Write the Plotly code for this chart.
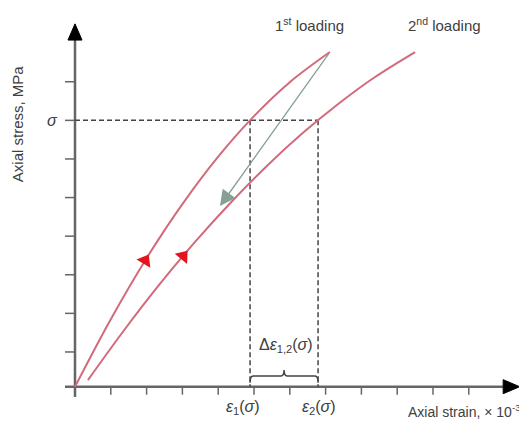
import numpy as np
import plotly.graph_objects as go

# ---- data (strain in 1e-3 units, stress in axis units) ----
load1_strain = [0.0, 1.0, 2.0, 3.0, 4.0, 5.0, 6.0, 7.12]
load1_stress = [0.0, 1.75, 3.33, 4.73, 5.96, 7.01, 7.89, 8.67]
load2_strain = [0.36, 1.36, 2.36, 3.36, 4.36, 5.36, 6.36, 7.36, 8.36, 9.50]
load2_stress = [0.17, 1.45, 2.65, 3.76, 4.78, 5.72, 6.57, 7.33, 8.01, 8.67]
unload_strain = [7.12, 4.05]
unload_stress = [8.67, 4.68]
sigma_level = 6.9
eps1 = 4.89
eps2 = 6.79
arrow1_strain = 1.96
arrow2_strain = 3.02
x_ticks = list(range(0, 12))
y_ticks = [0.9, 1.9, 2.9, 3.9, 4.9, 5.9, 6.9, 7.9]

# pixel scale (px per unit); page has an 8px body margin
PX_X, PX_Y = 35.8, 38.6
X0, Y0 = 75.0 - 8, 386.7 - 8
W, H = 519, 426
xr = [-X0 / PX_X, (W - X0) / PX_X]
yr = [(Y0 - H) / PX_Y, Y0 / PX_Y]

FONT = "Arial, Liberation Sans, sans-serif"
CURVE = "#d26a7b"
AXIS = "#666666"
DASH = "#444444"

fig = go.Figure()

# axes lines
fig.add_trace(go.Scatter(x=[-0.28, 11.96], y=[0, 0], mode="lines",
                         line=dict(color=AXIS, width=2.5), hoverinfo="skip"))
fig.add_trace(go.Scatter(x=[0, 0], y=[-0.27, 8.98], mode="lines",
                         line=dict(color=AXIS, width=2.5), hoverinfo="skip"))

# ticks
tx, ty = [], []
for t in x_ticks:
    tx += [t, t, None]
    ty += [0, -8 / PX_Y, None]
for t in y_ticks:
    tx += [-10 / PX_X, 0, None]
    ty += [t, t, None]
fig.add_trace(go.Scatter(x=tx, y=ty, mode="lines", line=dict(color=AXIS, width=1.5),
                         hoverinfo="skip"))

# axis arrowheads
fig.add_shape(type="path", xref="x", yref="y",
              path=f"M {-7/PX_X},8.98 L {7/PX_X},8.98 L 0,9.4 Z",
              fillcolor="black", line=dict(color="black", width=1))
fig.add_shape(type="path", xref="x", yref="y",
              path=f"M 11.96,{-7/PX_Y} L 11.96,{7/PX_Y} L 12.42,0 Z",
              fillcolor="black", line=dict(color="black", width=1))

# dashed guide lines
fig.add_trace(go.Scatter(x=[0, eps2, None, eps1, eps1, None, eps2, eps2],
                         y=[sigma_level, sigma_level, None, sigma_level, 0, None, sigma_level, 0],
                         mode="lines", line=dict(color=DASH, width=1.5, dash="5px,3px"),
                         hoverinfo="skip"))

# loading curves
fig.add_trace(go.Scatter(x=load1_strain, y=load1_stress, mode="lines",
                         line=dict(color=CURVE, width=2, shape="spline"), hoverinfo="skip"))
fig.add_trace(go.Scatter(x=load2_strain, y=load2_stress, mode="lines",
                         line=dict(color=CURVE, width=2, shape="spline"), hoverinfo="skip"))

# unloading arrow
fig.add_annotation(x=unload_strain[1], y=unload_stress[1], ax=unload_strain[0], ay=unload_stress[0],
                   xref="x", yref="y", axref="x", ayref="y", text="", showarrow=True,
                   arrowhead=2, arrowsize=2.4, arrowwidth=1.3, arrowcolor="#86a093")

# red direction arrows on the curves
def marker_angle(xs, ys, x):
    d = 0.05
    y1 = np.interp(x - d, xs, ys)
    y2 = np.interp(x + d, xs, ys)
    dxp = 2 * d * PX_X
    dyp = (y2 - y1) * PX_Y
    return float(np.degrees(np.arctan2(dxp, dyp)))

ax_list = [arrow1_strain, arrow2_strain]
ay_list = [float(np.interp(arrow1_strain, load1_strain, load1_stress)),
           float(np.interp(arrow2_strain, load2_strain, load2_stress))]
ang = [marker_angle(load1_strain, load1_stress, arrow1_strain),
       marker_angle(load2_strain, load2_stress, arrow2_strain)]
fig.add_trace(go.Scatter(x=ax_list, y=ay_list, mode="markers",
                         marker=dict(symbol="triangle-up", size=14, color="#e3141e",
                                     angle=ang, line=dict(width=0)), hoverinfo="skip"))

# brace
by0, by1, by2 = 0.10, 0.28, 0.43
mid = (eps1 + eps2) / 2
c = 3 / PX_X
fig.add_shape(type="path", xref="x", yref="y",
              path=(f"M {eps1},{by0} Q {eps1},{by1} {eps1 + c},{by1} L {mid - c},{by1} "
                    f"Q {mid},{by1} {mid},{by2} Q {mid},{by1} {mid + c},{by1} "
                    f"L {eps2 - c},{by1} Q {eps2},{by1} {eps2},{by0}"),
              line=dict(color=DASH, width=1.5))

tf = dict(family=FONT, color="#404040")
fig.add_annotation(x=mid + 0.05, y=1.07, text="Δ<i>ε</i><sub>1,2</sub>(<i>σ</i>)", showarrow=False,
                   font=dict(size=16, **tf))
fig.add_annotation(x=eps1 - 0.2, y=-0.55, text="<i>ε</i><sub>1</sub>(<i>σ</i>)", showarrow=False,
                   font=dict(size=16, **tf))
fig.add_annotation(x=eps2 + 0.03, y=-0.55, text="<i>ε</i><sub>2</sub>(<i>σ</i>)", showarrow=False,
                   font=dict(size=16, **tf))
fig.add_annotation(x=12.5, y=-0.62, text="Axial strain, × 10<sup>-3</sup>", showarrow=False,
                   xanchor="right", font=dict(size=14, **tf))
fig.add_annotation(x=-0.62, y=sigma_level, text="<i>σ</i>", showarrow=False,
                   font=dict(size=16, **tf))
fig.add_annotation(x=-1.6, y=6.82, text="Axial stress, MPa", showarrow=False, textangle=-90,
                   font=dict(size=15, **tf))
fig.add_annotation(x=6.56, y=9.38, text="1<sup>st</sup> loading", showarrow=False,
                   font=dict(size=15, **tf))
fig.add_annotation(x=10.33, y=9.38, text="2<sup>nd</sup> loading", showarrow=False,
                   font=dict(size=15, **tf))

fig.update_layout(width=W, height=H, margin=dict(l=0, r=0, t=0, b=0),
                  paper_bgcolor="white", plot_bgcolor="white", showlegend=False,
                  xaxis=dict(range=xr, visible=False, fixedrange=True),
                  yaxis=dict(range=yr, visible=False, fixedrange=True))
fig.write_html("out.html")
